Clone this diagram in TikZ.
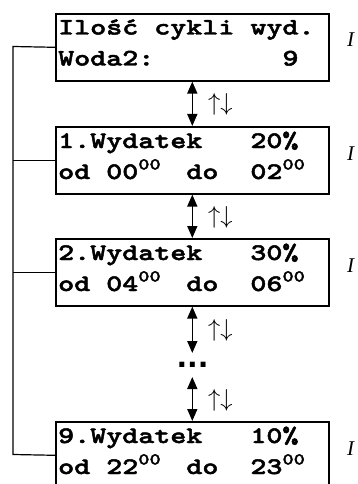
\documentclass[tikz,border=0pt]{standalone}
\usepackage{fontspec}
\usetikzlibrary{arrows.meta}
\newfontfamily\lcd{lmmonolt10-bold.otf}[FakeStretch=1.2875,FakeBold=2]
\newfontfamily\serifit{Liberation Serif Italic}
\newfontfamily\dotfont{DejaVu Sans}
\newlength\cw
\setlength\cw{16.02pt}
\newcommand\blank[1]{\hspace*{#1\cw}}
\newcommand\hsup[1]{\raisebox{9.5pt}{\fontsize{16.6}{16.6}\selectfont #1}}
\tikzset{
  lcdbox/.style={draw, line width=1.6pt, minimum width=273pt, minimum height=67pt, anchor=north west, inner sep=0pt},
  lcdtext/.style={anchor=base west, inner sep=0pt, font=\fontsize{23.7}{31}\selectfont\lcd},
  biarrow/.style={line width=1.6pt, {Triangle[length=12pt,width=10pt]}-{Triangle[length=12pt,width=10pt]}},
  arrlabel/.style={midway, anchor=west, inner sep=0pt, xshift=15pt, yshift=-1pt},
  bracket/.style={line width=1.2pt},
  sidelabel/.style={anchor=base west, inner sep=0pt, font=\fontsize{21}{21}\selectfont\serifit},
  dotsnode/.style={anchor=base, inner xsep=0pt, inner ysep=0pt, text height=4pt, text depth=0pt, outer ysep=10pt, font=\fontsize{28}{28}\selectfont\dotfont\bfseries}
}
\newcommand\updn{\scalebox{2.45}{$\uparrow\downarrow$}}
\begin{document}
\begin{tikzpicture}[x=1pt,y=-1pt]
\useasboundingbox (0,0) rectangle (358,484);
\clip (0,0) rectangle (358,484);
% boxes
\node[lcdbox] (b1) at (55,13) {};
\node[lcdbox] (b2) at (55,126) {};
\node[lcdbox] (b3) at (55,238) {};
\node[lcdbox] (b4) at (55,421) {};
% texts
\node[lcdtext] (t1a) at (58,34.5) {Ilość\blank{1}cykli\blank{1}wyd.};
\node[lcdtext] (t1b) at (58,65.5) {Woda2:\blank{8}9};
\node[lcdtext] (t2a) at (58,148) {1.Wydatek\blank{3}20\%};
\node[lcdtext] (t2b) at (58,179) {od\blank{1}00\makebox[3\cw][l]{\hsup{00}}do\blank{2}02\hsup{00}};
\node[lcdtext] (t3a) at (58,260) {2.Wydatek\blank{3}30\%};
\node[lcdtext] (t3b) at (58,291) {od\blank{1}04\makebox[3\cw][l]{\hsup{00}}do\blank{2}06\hsup{00}};
\node[lcdtext] (t4a) at (58,443) {9.Wydatek\blank{3}10\%};
\node[lcdtext] (t4b) at (58,474) {od\blank{1}22\makebox[3\cw][l]{\hsup{00}}do\blank{2}23\hsup{00}};
% side labels
\node[sidelabel] (s1) at (347,47) {I};
\node[sidelabel] (s2) at (347,160) {I};
\node[sidelabel] (s3) at (347,272) {I};
\node[sidelabel] (s4) at (347,455) {I};
% dots
\node[dotsnode] (dots) at (192.5,367) {...};
% arrows
\draw[biarrow] (b1.south) -- node[arrlabel] (l1) {\updn} (b2.north);
\draw[biarrow] (b2.south) -- node[arrlabel] (l2) {\updn} (b3.north);
\draw[biarrow] (b3.south) -- node[arrlabel] (l3) {\updn} (b3.south |- dots.north);
\draw[biarrow] (b3.south |- dots.south) -- node[arrlabel] (l4) {\updn} (b4.north);
% bracket
\coordinate (lt) at (13,46.5);
\coordinate (lb) at (13,454.5);
\draw[bracket] (b1.west) -- (lt) -- (lb) -- (b4.west);
\draw[bracket] (b2.west) -- (b2.west -| lt);
\draw[bracket] (b3.west) -- (b3.west -| lt);
\end{tikzpicture}
\end{document}
